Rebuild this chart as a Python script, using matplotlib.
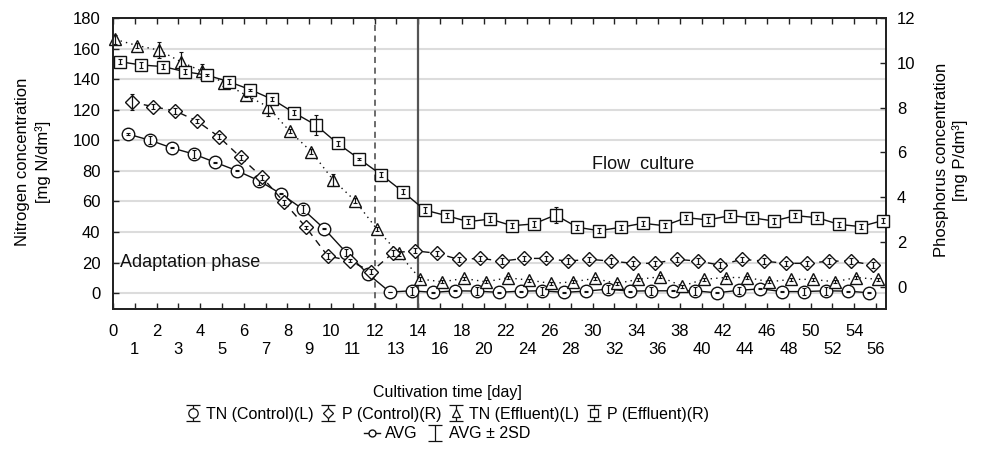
import numpy as np
import matplotlib
matplotlib.use("Agg")
import matplotlib.pyplot as plt
from matplotlib.lines import Line2D

plt.rcParams['font.family'] = ['Liberation Sans', 'DejaVu Sans']

# ---------------- data ----------------
days = [0, 1, 2, 3, 4, 5, 6, 7, 8, 9, 10, 11, 12, 13, 14,
        16, 18, 20, 22, 24, 26, 28, 30, 32, 34, 36, 38, 40, 42, 44, 46, 48, 50, 52, 54, 56]

tn_control = [None, 104, 100, 95, 91, 85.5, 80, 73.5, 65, 55, 42, 26.5, 12.5, 0.7, 1.5,
              0.5, 1.5, 1.3, 0.5, 1.3, 1.5, 0.5, 1.3, 2.6, 1.3,
              1.5, 1.5, 1.5, 0.2, 1.8, 2.8, 1.0, 1.0, 1.5, 1.3, 0.2]
tn_control_sd = [None, 0.5, 2.5, 0.3, 2.5, 0.3, 0.3, 2.5, 0.3, 2.5, 0.3, 2.5, 0.3, 0.3, 2.5,
                 0.3, 0.3, 2.5, 0.3, 0.3, 2.5, 0.3, 0.3, 2.5, 0.3,
                 2.5, 0.3, 2.5, 0.3, 2.5, 0.3, 0.3, 2.5, 2.5, 0.3, 0.3]

p_control = [None, 8.24, 8.04, 7.85, 7.40, 6.70, 5.78, 4.88, 3.77, 2.65, 1.37, 1.16, 0.67, 1.51, 1.60,
             1.49, 1.22, 1.26, 1.14, 1.26, 1.26, 1.14, 1.22, 1.14, 1.04,
             1.04, 1.22, 1.14, 0.96, 1.22, 1.14, 1.04, 1.04, 1.14, 1.14, 0.96]
p_control_sd = [None, 0.35, 0.12, 0.12, 0.08, 0.12, 0.12, 0.10, 0.12, 0.08, 0.12, 0.08, 0.12, 0.12, 0.12,
                0.12, 0.12, 0.12, 0.12, 0.12, 0.12, 0.12, 0.12, 0.12, 0.12,
                0.12, 0.12, 0.12, 0.12, 0.12, 0.12, 0.12, 0.12, 0.12, 0.12, 0.12]

tn_effluent = [166, 162, 159, 151.5, 145, 137.5, 129.5, 122, 106, 92.5, 74, 60.5, 42, 26, 9.2,
               7.4, 9.6, 7.4, 10, 8.5, 6.3, 7.4, 9.6, 6.3, 9,
               10.7, 4.6, 9, 10.2, 10.2, 7.4, 9, 9, 7.4, 10.2, 9]
tn_effluent_sd = [3, 1.5, 5, 6.5, 5, 2, 1.5, 6, 1.5, 1.5, 4, 1.5, 1.5, 1.5, 1.5,
                  1, 1, 1, 1, 1, 1, 1, 1, 1, 1,
                  1, 1, 1, 1, 1, 1, 1, 1, 1, 1, 1]

p_effluent = [10.05, 9.90, 9.83, 9.60, 9.45, 9.16, 8.80, 8.37, 7.77, 7.22, 6.40, 5.70, 5.00, 4.24,
              3.42, 3.17, 2.90, 3.02, 2.72, 2.80, 3.20, 2.65, 2.50, 2.65, 2.83,
              2.72, 3.08, 2.98, 3.17, 3.08, 2.93, 3.17, 3.08, 2.78, 2.68, 2.95]
p_effluent_sd = [0.10, 0.12, 0.12, 0.12, 0.05, 0.12, 0.05, 0.10, 0.10, 0.45, 0.12, 0.05, 0.10, 0.12,
                 0.12, 0.12, 0.12, 0.12, 0.12, 0.12, 0.35, 0.12, 0.12, 0.12, 0.12,
                 0.12, 0.12, 0.12, 0.12, 0.12, 0.12, 0.12, 0.12, 0.12, 0.12, 0.12]

series_labels = ["TN (Control)(L)", "P (Control)(R)", "TN (Effluent)(L)", "P (Effluent)(R)"]
phase_labels = ["Adaptation phase", "Flow  culture"]

def arr(v):
    return np.array([np.nan if x is None else x for x in v], dtype=float)

# ---------------- figure ----------------
W, H = 982, 450
fig = plt.figure(figsize=(W / 100, H / 100), dpi=100)
L, R, T, B = 113, 886, 18, 309
ax = fig.add_axes([L / W, 1 - B / H, (R - L) / W, (B - T) / H])
ax2 = ax.twinx()

idx = np.arange(len(days))
ax.set_xlim(0, 35.46)
ax.set_ylim(-10.4, 180)
ax2.set_ylim(-1, 12)

ax.set_yticks(np.arange(0, 181, 20))
ax2.set_yticks(np.arange(0, 13, 2))
ax.grid(axis='y', color='#dcdcdc', lw=1.5)
ax.set_axisbelow(True)

xt_labels = [str(d) if i % 2 == 0 else "\n" + str(d) for i, d in enumerate(days)]
ax.set_xticks(idx)
ax.set_xticklabels(xt_labels, fontsize=12, linespacing=1.25)
ax.tick_params(axis='x', direction='in', length=4, width=1, top=True, pad=11, color='#222222')
ax.tick_params(axis='y', direction='in', length=4, width=1, labelsize=12, pad=9, color='#222222')
ax2.tick_params(axis='y', direction='in', length=4, width=1, labelsize=12, pad=8, color='#222222')
for a in (ax, ax2):
    for s in a.spines.values():
        s.set_linewidth(1.3)
        s.set_color('#222222')

ms = 9.0
specs = [
    (ax, arr(tn_control), arr(tn_control_sd), -0.30, 'o', '-', ms),
    (ax2, arr(p_control), arr(p_control_sd), -0.15, 'D', (0, (5, 4)), ms * 0.76),
    (ax, arr(tn_effluent), arr(tn_effluent_sd), 0.10, '^', (0, (1, 3)), ms * 0.95),
    (ax2, arr(p_effluent), arr(p_effluent_sd), 0.30, 's', '-', ms * 0.92),
]
handles = []
for (a, y, e, off, mk, ls, msz), lab in zip(specs, series_labels):
    x = idx + off
    a.plot(x, y, color='#111111', lw=1.0, ls=ls, marker=mk, ms=msz, mfc='white',
           mec='#111111', mew=1.0, clip_on=False, zorder=3)
    a.errorbar(x, y, yerr=e, fmt='none', ecolor='#111111', elinewidth=0.9,
               capsize=1.5, capthick=0.8, clip_on=False, zorder=4)
    h = a.errorbar([np.nan], [np.nan], yerr=[1], fmt=mk, ms=msz * 0.75, mfc='white',
                   mec='#111111', mew=0.9, ecolor='#111111', elinewidth=0.9,
                   capsize=5, capthick=0.9)
    handles.append(h)

ax.axvline(12, color='#444444', lw=1.1, ls=(0, (4, 3)), zorder=2)
ax.axvline(14, color='#555555', lw=1.6, zorder=2)

ax.text(0.32, 20, phase_labels[0], fontsize=13, va='center', ha='left', color='#111111')
ax.text(24.3, 84, phase_labels[1], fontsize=13, va='center', ha='center', color='#111111')

fig.text(33 / W, 1 - 162 / H, "Nitrogen concentration\n[mg N/dm³]", rotation=90,
         ha='center', va='center', fontsize=12, linespacing=1.35, multialignment='center')
fig.text(951 / W, 1 - 160 / H, "Phosphorus concentration\n[mg P/dm³]", rotation=90,
         ha='center', va='center', fontsize=12, linespacing=1.2, multialignment='center')
fig.text(447 / W, 1 - 393 / H, "Cultivation time [day]", ha='center', va='center', fontsize=11.5)

leg1 = fig.legend(handles=handles, labels=series_labels, loc='center',
                  bbox_to_anchor=(447 / W, 1 - 414 / H), ncol=4, frameon=False,
                  fontsize=11.5, handlelength=1.0, handletextpad=0.35, columnspacing=0.4,
                  borderpad=0, borderaxespad=0)
avg_h = Line2D([], [], color='#111111', lw=1, marker='o', ms=5, mfc='white', mec='#111111')
sd_h = ax.errorbar([np.nan], [np.nan], yerr=[1], fmt='none', ecolor='#111111',
                   elinewidth=0.9, capsize=5, capthick=0.9)
leg2 = fig.legend(handles=[avg_h, sd_h], labels=["AVG", "AVG ± 2SD"], loc='center',
                  bbox_to_anchor=(447 / W, 1 - 434 / H), ncol=2, frameon=False,
                  fontsize=11.5, handlelength=1.0, handletextpad=0.35, columnspacing=0.6,
                  borderpad=0, borderaxespad=0)

fig.savefig("out.png", dpi=100)
